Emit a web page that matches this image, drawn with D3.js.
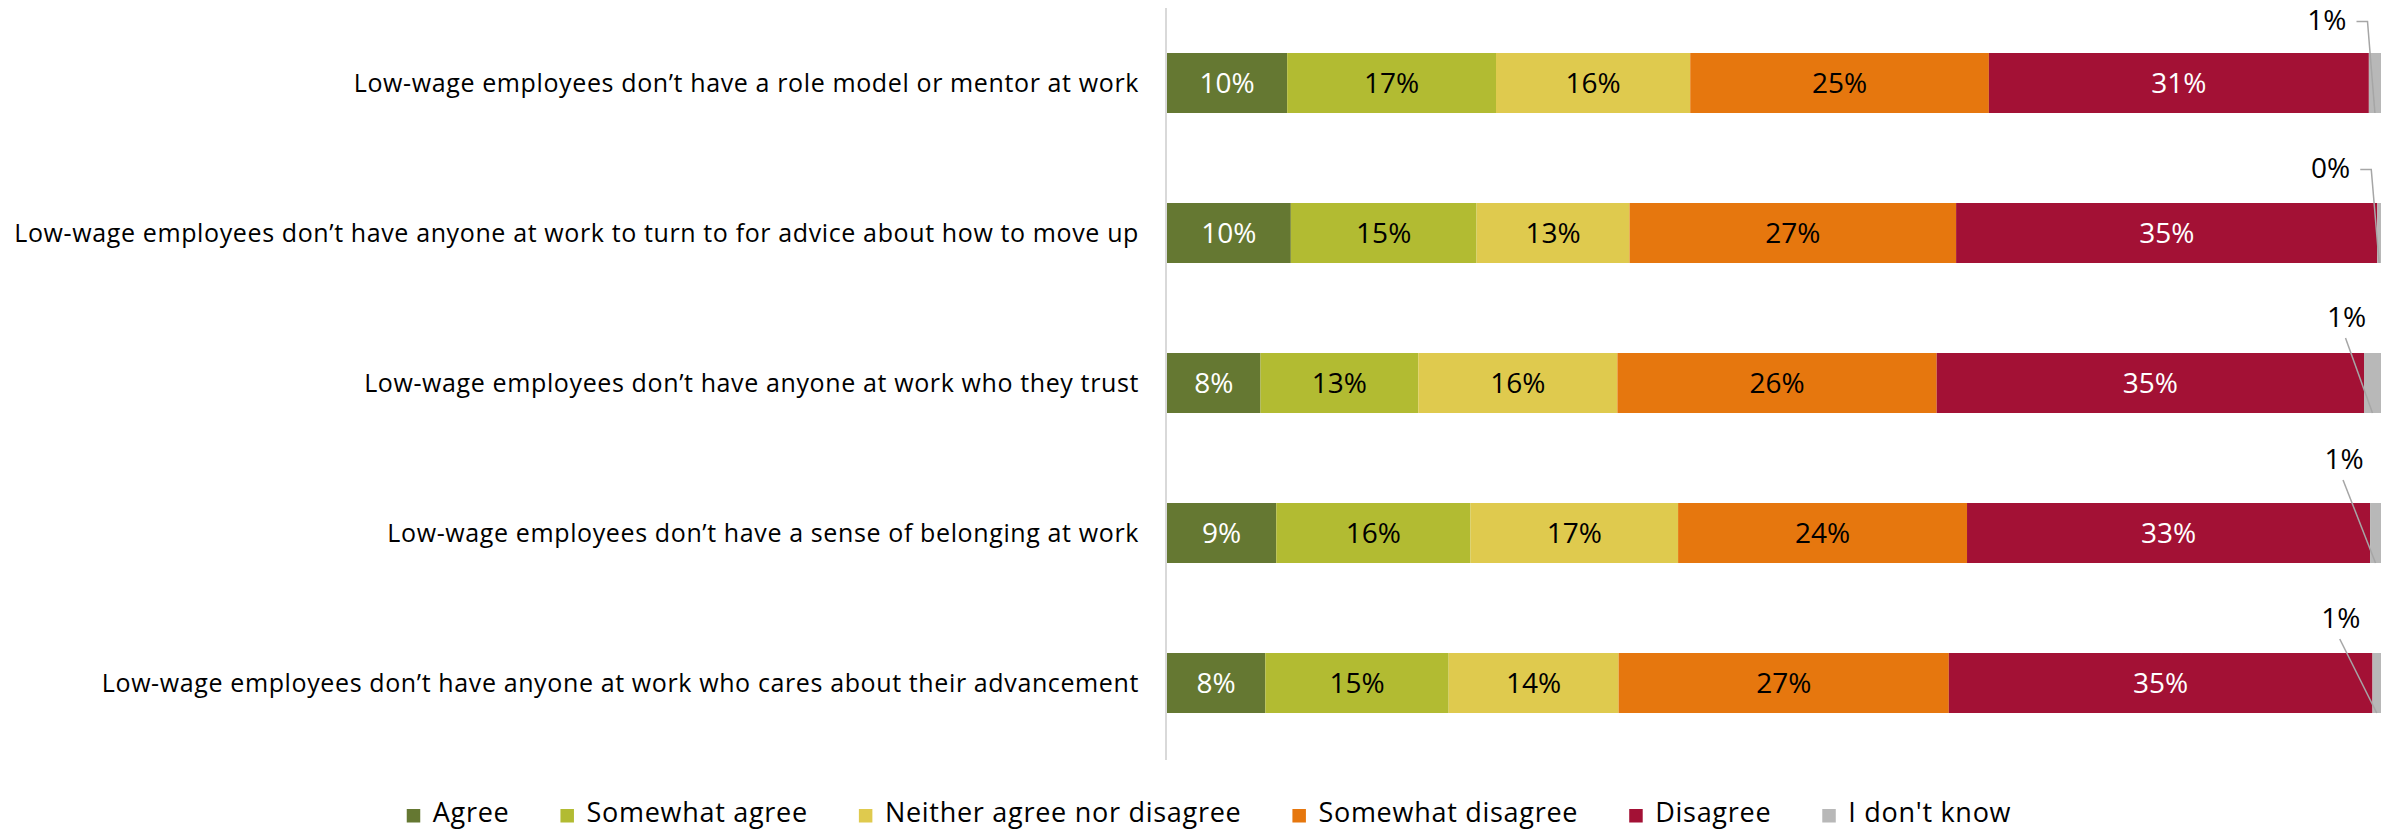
<!DOCTYPE html>
<html>
<head>
<meta charset="utf-8">
<script src="https://cdn.jsdelivr.net/npm/d3@7"></script>
<style>
  html, body { margin: 0; padding: 0; background: #ffffff; }
  svg { display: block; font-family: "Open Sans", "Liberation Sans", Arial, sans-serif; }
</style>
</head>
<body>
<svg id="chart" width="2392" height="832"></svg>
<script>
// Survey statements (one bar each, top to bottom)
const categories = [
  "Low-wage employees don\u2019t have a role model or mentor at work",
  "Low-wage employees don\u2019t have anyone at work to turn to for advice about how to move up",
  "Low-wage employees don\u2019t have anyone at work who they trust",
  "Low-wage employees don\u2019t have a sense of belonging at work",
  "Low-wage employees don\u2019t have anyone at work who cares about their advancement"
];

// Response options, in stacking order
const responses = ["Agree", "Somewhat agree", "Neither agree nor disagree", "Somewhat disagree", "Disagree", "I don't know"];

// Share of respondents (%) per statement
const agree            = [9.9, 10.2, 7.7, 9.0, 8.1];
const somewhatAgree    = [17.2, 15.3, 13.0, 16.0, 15.1];
const neither          = [16.0, 12.6, 16.4, 17.1, 14.0];
const somewhatDisagree = [24.6, 26.9, 26.3, 23.8, 27.2];
const disagree         = [31.3, 34.7, 35.2, 33.2, 34.9];
const dontKnow         = [1.0, 0.3, 1.4, 0.9, 0.7];

const colors = ["#657832", "#b2bb32", "#dfca4e", "#e6770e", "#a31135", "#b8b8b8"];
const whiteText = new Set(["Agree", "Disagree"]);

// Where the small "I don't know" labels sit, relative to the segment
const calloutLayout = [
  { dx: -48,   dy: -33, elbow: true },
  { dx: -48.5, dy: -35, elbow: true },
  { dx: -26,   dy: -36, elbow: false },
  { dx: -31.5, dy: -44, elbow: false },
  { dx: -36,   dy: -35, elbow: false }
];

const seriesValues = [agree, somewhatAgree, neither, somewhatDisagree, disagree, dontKnow];
const table = categories.map((c, i) => {
  const row = { category: c };
  responses.forEach((r, k) => { row[r] = seriesValues[k][i]; });
  return row;
});

const svg = d3.select("#chart");
const plot = { left: 1167, right: 2381, top: 8, bottom: 758 };

const x = d3.scaleLinear().domain([0, 100]).range([plot.left, plot.right]);
const y = d3.scaleBand().domain(categories).range([plot.top, plot.bottom])
  .paddingInner(0.6).paddingOuter(0.3);
const color = d3.scaleOrdinal().domain(responses).range(colors);
const pct = v => d3.format(".0f")(v) + "%";

const stacked = d3.stack().keys(responses)(table);

// Category axis line
svg.append("line")
  .attr("x1", plot.left - 1).attr("x2", plot.left - 1)
  .attr("y1", plot.top).attr("y2", plot.bottom + 2)
  .attr("stroke", "#d9d9d9").attr("stroke-width", 2);

// Category labels
svg.append("g").selectAll("text").data(categories).join("text")
  .attr("x", plot.left - 28)
  .attr("y", d => y(d) + y.bandwidth() / 2)
  .attr("dy", "0.35em")
  .attr("text-anchor", "end")
  .attr("font-size", 25)
  .attr("letter-spacing", 0.62)
  .attr("fill", "#000")
  .text(d => d);

// Stacked segments
const layers = svg.append("g").selectAll("g").data(stacked).join("g")
  .attr("fill", d => color(d.key));

layers.selectAll("rect").data(d => d.map(s => Object.assign(s, { key: d.key }))).join("rect")
  .attr("x", d => x(d[0]))
  .attr("width", d => x(d[1]) - x(d[0]))
  .attr("y", d => y(d.data.category))
  .attr("height", y.bandwidth());

// Values inside the segments
const lastKey = responses[responses.length - 1];
svg.append("g").selectAll("g").data(stacked.filter(s => s.key !== lastKey)).join("g")
  .selectAll("text").data(d => d).join("text")
  .attr("x", d => (x(d[0]) + x(d[1])) / 2)
  .attr("y", d => y(d.data.category) + y.bandwidth() / 2)
  .attr("dy", "0.36em")
  .attr("text-anchor", "middle")
  .attr("font-size", 28)
  .attr("fill", d => whiteText.has(d.key) ? "#ffffff" : "#000000")
  .text(d => pct(d[1] - d[0]));

// Callouts for the thin "I don't know" segments
const lastLayer = stacked[stacked.length - 1];
const callouts = svg.append("g");
lastLayer.forEach((d, i) => {
  const cfg = calloutLayout[i];
  const segCx = (x(d[0]) + x(d[1])) / 2;
  const top = y(d.data.category);
  const bottom = top + y.bandwidth();
  const lx = segCx + cfg.dx;
  const ly = top + cfg.dy;
  const t = callouts.append("text")
    .attr("x", lx).attr("y", ly).attr("dy", "0.36em")
    .attr("text-anchor", "middle")
    .attr("font-size", 28)
    .attr("fill", "#000")
    .text(pct(d[1] - d[0]));
  const half = t.node().getComputedTextLength() / 2;
  const pts = cfg.elbow
    ? [[lx + half + 10, ly + 1.5], [lx + half + 21, ly + 1.5], [segCx, bottom]]
    : [[lx - 1, ly + 21], [segCx, bottom]];
  callouts.append("path")
    .attr("d", d3.line()(pts))
    .attr("fill", "none")
    .attr("stroke", "#a6a6a6")
    .attr("stroke-width", 1.5);
});

// Legend
const legend = svg.append("g");
const items = legend.selectAll("g").data(responses).join("g");
items.append("rect")
  .attr("width", 13.5).attr("height", 13.5)
  .attr("y", 809)
  .attr("fill", d => color(d));
items.append("text")
  .attr("x", 26).attr("y", 822)
  .attr("font-size", 27)
  .attr("letter-spacing", 0.72)
  .attr("fill", "#000")
  .text(d => d);
let cursor = 0;
const offsets = [];
items.each(function () {
  offsets.push(cursor);
  const w = d3.select(this).select("text").node().getComputedTextLength();
  cursor += 26 + w + 51;
});
const totalW = cursor - 51;
const startX = 1209 - totalW / 2;
items.attr("transform", (d, i) => `translate(${startX + offsets[i]},0)`);
</script>
</body>
</html>
